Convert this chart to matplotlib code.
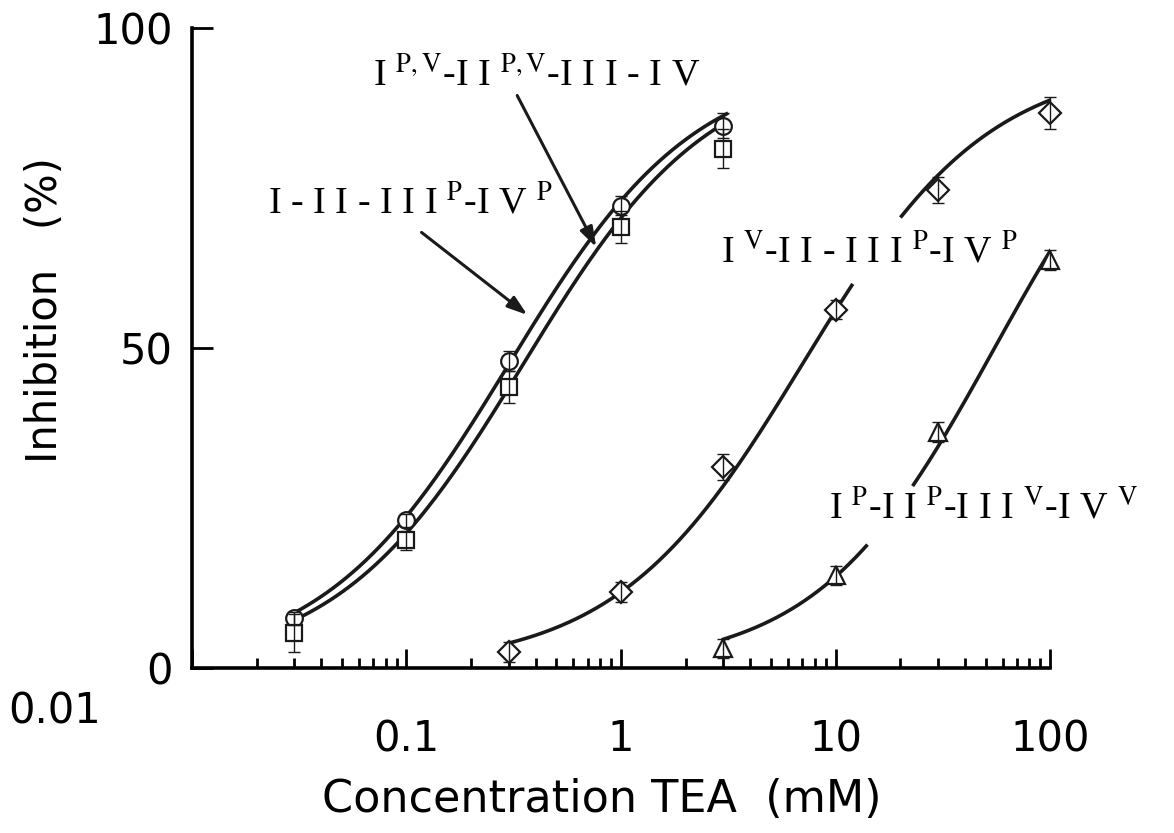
import numpy as np
import matplotlib.pyplot as plt
from matplotlib.transforms import ScaledTranslation

# TEA concentration (mM) vs inhibition (%)
conc_a = [0.03, 0.1, 0.3, 1, 3]
circle_inh = [7.8, 23.1, 48.0, 72.3, 84.8]
circle_err = [1.0, 1.0, 1.5, 1.5, 2.0]
square_inh = [5.5, 20.0, 44.0, 68.9, 81.2]
square_err = [3.0, 1.5, 2.5, 2.5, 3.0]

conc_d = [0.3, 1, 3, 10, 30, 100]
diamond_inh = [2.5, 11.9, 31.4, 56.0, 74.7, 86.7]
diamond_err = [1.5, 1.5, 2.0, 1.5, 2.0, 2.5]

conc_t = [3, 10, 30, 100]
triangle_inh = [3.1, 14.5, 36.9, 63.8]
triangle_err = [1.5, 1.5, 1.5, 1.5]

# Hill fits (Imax %, IC50 mM, nH)
fit_circle = (95, 0.30, 1.0)
fit_square = (95, 0.35, 1.0)
fit_diamond = (95, 7.0, 1.0)
fit_triangle = (100, 55.0, 1.05)

lab_pv = r"I $^{\rm P,V}$-I I $^{\rm P,V}$-I I I - I V"
lab_p = r"I - I I - I I I $^{\rm P}$-I V $^{\rm P}$"
lab_v = r"I $^{\rm V}$-I I - I I I $^{\rm P}$-I V $^{\rm P}$"
lab_pvv = r"I $^{\rm P}$-I I $^{\rm P}$-I I I $^{\rm V}$-I V $^{\rm V}$"

xticks = [0.01, 0.1, 1, 10, 100]
xticklabels = ["0.01", "0.1", "1", "10", "100"]
yticks = [0, 50, 100]


def hill(x, p):
    imax, ic50, n = p
    return imax * x**n / (x**n + ic50**n)


def fit_line(ax, p, lo, hi, gap=None):
    segs = [(lo, hi)] if gap is None else [(lo, gap[0]), (gap[1], hi)]
    for a, b in segs:
        xs = np.logspace(np.log10(a), np.log10(b), 200)
        ax.plot(xs, hill(xs, p), color="#1a1a1a", lw=2.6, zorder=2)


plt.rcParams["mathtext.fontset"] = "stix"

fig = plt.figure(figsize=(11.74, 8.33), dpi=100)
ax = fig.add_axes([0.1635, 0.198, 0.731, 0.768])

fit_line(ax, fit_circle, 0.03, 3.1)
fit_line(ax, fit_square, 0.031, 3.1)
fit_line(ax, fit_diamond, 0.3, 100, gap=(11.9, 20.3))
fit_line(ax, fit_triangle, 3, 100, gap=(13.9, 23.1))

mk = dict(mfc="white", mec="#1a1a1a", mew=1.6, ls="none", zorder=3, clip_on=False)
ax.plot(conc_a, circle_inh, marker="o", ms=12, **mk)
ax.plot(conc_a, square_inh, marker="s", ms=12, **mk)
ax.plot(conc_d, diamond_inh, marker="D", ms=11, **mk)
ax.plot(conc_t, triangle_inh, marker="^", ms=13, **mk)

eb = dict(fmt="none", ecolor="#1a1a1a", elinewidth=1.0, capsize=4, zorder=4, clip_on=False)
ax.errorbar(conc_a, circle_inh, yerr=circle_err, **eb)
ax.errorbar(conc_a, square_inh, yerr=square_err, **eb)
ax.errorbar(conc_d, diamond_inh, yerr=diamond_err, **eb)
ax.errorbar(conc_t, triangle_inh, yerr=triangle_err, **eb)

ax.set_xscale("log")
ax.set_xlim(0.01, 100)
ax.set_ylim(0, 100)

for s in ["top", "right"]:
    ax.spines[s].set_visible(False)
for s in ["left", "bottom"]:
    ax.spines[s].set_linewidth(2.6)

ax.set_xticks(xticks)
ax.set_xticklabels(xticklabels)
ax.set_yticks(yticks)
ax.tick_params(axis="x", which="major", direction="in", length=14, width=2, pad=36, labelsize=30)
ax.tick_params(axis="x", which="minor", direction="in", length=7, width=2)
ax.tick_params(axis="y", direction="in", length=15, width=2, pad=14, labelsize=30)

# the 0.01 label sits up and to the left in the original
lab0 = ax.get_xticklabels()[0]
lab0.set_transform(lab0.get_transform() + ScaledTranslation(-1.37, 0.28, fig.dpi_scale_trans))

ax.set_xlabel("Concentration TEA  (mM)", fontsize=32)
ax.xaxis.set_label_coords(0.478, -0.172)
ax.set_ylabel("Inhibition   (%)", fontsize=30)
ax.yaxis.set_label_coords(-0.147, 0.559)

serif = dict(family="Liberation Serif", fontsize=27.5, ha="left", va="baseline")
ax.text(0.0695, 91.1, lab_pv, **serif)
ax.text(0.0225, 71.1, lab_p, **serif)
ax.text(2.92, 63.4, lab_v, **serif)
ax.text(9.27, 23.4, lab_pvv, **serif)

arrow = dict(arrowstyle="-|>,head_length=1.2,head_width=0.4", color="#1a1a1a", lw=2.2,
             shrinkA=0, shrinkB=0)
ax.annotate("", xy=(0.766, 65.8), xytext=(0.328, 89.5), arrowprops=arrow)
ax.annotate("", xy=(0.366, 55.2), xytext=(0.1175, 68.1), arrowprops=arrow)

fig.savefig("out.png", dpi=100)
